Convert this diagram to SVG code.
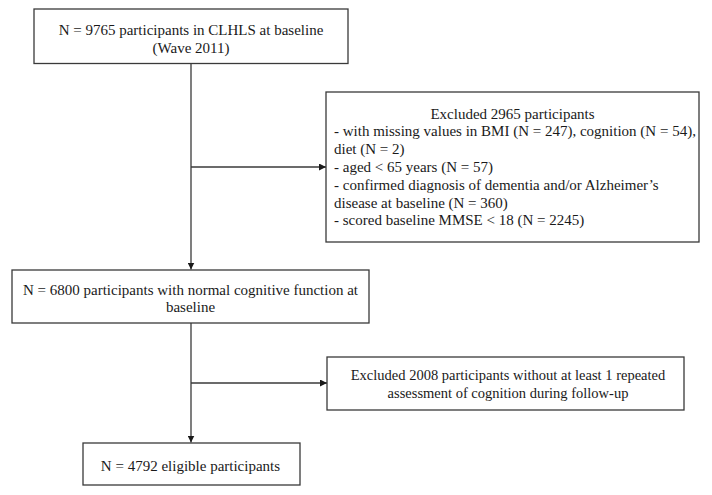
<svg xmlns="http://www.w3.org/2000/svg" width="712" height="495" viewBox="0 0 712 495">
<style>
.box{fill:#fff;stroke:#3a3a3a;stroke-width:1.3}
.t{font-family:"Liberation Serif","Times New Roman",serif;font-size:15px;fill:#1a1a1a}
.c{text-anchor:middle}
.ln{stroke:#3a3a3a;stroke-width:1.3;fill:none}
</style>
<defs>
<marker id="ah" viewBox="0 0 10 10" refX="10" refY="5" markerWidth="7" markerHeight="7" markerUnits="userSpaceOnUse" orient="auto">
<path d="M0,0 L10,5 L0,10 z" fill="#1a1a1a"/>
</marker>
</defs>
<rect width="712" height="495" fill="#fff"/>
<g id="connectors">
<line class="ln" x1="191" y1="63.5" x2="191" y2="269.5" marker-end="url(#ah)"/>
<line class="ln" x1="191" y1="167" x2="326" y2="167" marker-end="url(#ah)"/>
<line class="ln" x1="191" y1="323" x2="191" y2="442.5" marker-end="url(#ah)"/>
<line class="ln" x1="191" y1="383" x2="327" y2="383" marker-end="url(#ah)"/>
</g>
<g id="node-baseline">
<rect class="box" x="34" y="9" width="314" height="54.5"/>
<text class="t c" x="191" y="35">N = 9765 participants in CLHLS at baseline</text>
<text class="t c" x="191" y="52.5">(Wave 2011)</text>
</g>
<g id="node-excluded1">
<rect class="box" x="326" y="92" width="373" height="150"/>
<text class="t c" x="512.5" y="118.5">Excluded 2965 participants</text>
<text class="t" x="334" y="136.3">- with missing values in BMI (N = 247), cognition (N = 54),</text>
<text class="t" x="334" y="154.1">diet (N = 2)</text>
<text class="t" x="334" y="171.9">- aged &lt; 65 years (N = 57)</text>
<text class="t" x="334" y="189.7">- confirmed diagnosis of dementia and/or Alzheimer’s</text>
<text class="t" x="334" y="207.5">disease at baseline (N = 360)</text>
<text class="t" x="334" y="225.3">- scored baseline MMSE &lt; 18 (N = 2245)</text>
</g>
<g id="node-normal">
<rect class="box" x="12" y="270" width="357" height="53"/>
<text class="t c" x="190.5" y="295">N = 6800 participants with normal cognitive function at</text>
<text class="t c" x="190.5" y="312">baseline</text>
</g>
<g id="node-excluded2">
<rect class="box" x="327" y="357" width="357" height="53"/>
<text class="t c" x="508" y="380" style="font-size:14.5px">Excluded 2008 participants without at least 1 repeated</text>
<text class="t c" x="508" y="398" style="font-size:14.5px">assessment of cognition during follow-up</text>
</g>
<g id="node-eligible">
<rect class="box" x="83" y="443" width="217" height="42"/>
<text class="t c" x="190.5" y="470.5">N = 4792 eligible participants</text>
</g>
</svg>
